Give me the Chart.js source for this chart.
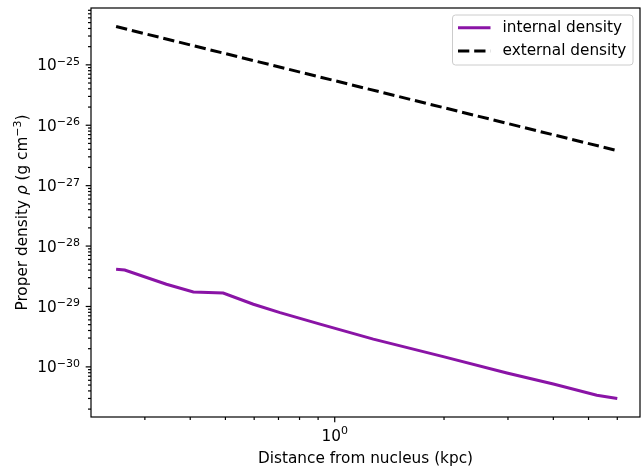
<!DOCTYPE html>
<html>
<head>
<meta charset="utf-8">
<script src="https://cdn.jsdelivr.net/npm/chart.js@4"></script>
<style>
  html, body { margin: 0; padding: 0; background: #fff; }
  #wrap { width: 641px; height: 466px; }
</style>
</head>
<body>
<div id="wrap"><canvas id="chart" width="641" height="466"></canvas></div>
<script>
// distance from nucleus (kpc)
const internalX = [0.25, 0.264, 0.344, 0.408, 0.493, 0.597, 0.707, 0.911, 1.277, 1.99, 2.98, 4.0, 5.27, 6.0];
// proper density (g cm^-3)
const internalRho = [4.12e-29, 4.0e-29, 2.33e-29, 1.74e-29, 1.67e-29, 1.09e-29, 7.9e-30, 5.1e-30, 2.88e-30, 1.48e-30, 7.9e-31, 5.2e-31, 3.4e-31, 3.0e-31];
const externalX = [0.25, 6.0];
const externalRho = [4.3e-25, 3.8e-27];

// major ticks, labelled as 10^exponent
const xMajorTicks = [1];
const xTickExponents = ['0'];
const yMajorTicks = [1e-30, 1e-29, 1e-28, 1e-27, 1e-26, 1e-25];
const yTickExponents = ['\u221230', '\u221229', '\u221228', '\u221227', '\u221226', '\u221225'];

const FONT = '"DejaVu Sans"';
const FS = 15.3;
const SUP = 11;

// major + minor (2..9 x 10^n) tick values inside [min, max]
function logTicks(min, max) {
    const out = [];
    for (let e = Math.floor(Math.log10(min)); e <= Math.ceil(Math.log10(max)); e++) {
        for (let m = 1; m <= 9; m++) {
            const v = Number(m + 'e' + e);
            if (v >= min && v <= max) out.push({ value: v });
        }
    }
    return out;
}

function exponentFor(value, majors, exps) {
    for (let i = 0; i < majors.length; i++) {
        if (Math.abs(Math.log10(value) - Math.log10(majors[i])) < 1e-6) return exps[i];
    }
    return null;
}

// draws "10" with a raised exponent, like matplotlib mathtext
function drawPow(ctx, exp, x, baseY, align, shift) {
    ctx.font = FS + 'px ' + FONT;
    const wb = ctx.measureText('10').width;
    ctx.font = SUP + 'px ' + FONT;
    const we = ctx.measureText(exp).width;
    const x0 = align === 'right' ? x - wb - we : x - (wb + we) / 2;
    ctx.font = FS + 'px ' + FONT;
    ctx.fillText('10', x0, baseY);
    ctx.font = SUP + 'px ' + FONT;
    ctx.fillText(exp, x0 + wb, baseY - shift);
}

// frame, ticks, axis titles and legend drawn the matplotlib way
const axesPlugin = {
    id: 'axesPlugin',
    afterDraw(chart) {
        const ctx = chart.ctx;
        const a = chart.chartArea;
        const xs = chart.scales.x;
        const ys = chart.scales.y;
        ctx.save();
        ctx.strokeStyle = '#000';
        ctx.fillStyle = '#000';
        ctx.lineWidth = 1.2;
        ctx.textBaseline = 'alphabetic';
        ctx.textAlign = 'left';

        xs.ticks.forEach(t => {
            const px = xs.getPixelForValue(t.value);
            const exp = exponentFor(t.value, xMajorTicks, xTickExponents);
            const len = exp !== null ? 5.3 : 3.0;
            ctx.beginPath();
            ctx.moveTo(px, a.bottom);
            ctx.lineTo(px, a.bottom + len);
            ctx.stroke();
            if (exp !== null) drawPow(ctx, exp, px, a.bottom + 23.8, 'center', 7);
        });
        ys.ticks.forEach(t => {
            const py = ys.getPixelForValue(t.value);
            const exp = exponentFor(t.value, yMajorTicks, yTickExponents);
            const len = exp !== null ? 5.3 : 3.0;
            ctx.beginPath();
            ctx.moveTo(a.left, py);
            ctx.lineTo(a.left - len, py);
            ctx.stroke();
            if (exp !== null) drawPow(ctx, exp, a.left - 11, py + 5.5, 'right', 5.5);
        });

        ctx.strokeRect(a.left, a.top, a.right - a.left, a.bottom - a.top);

        // x title
        ctx.font = FS + 'px ' + FONT;
        ctx.textAlign = 'center';
        ctx.fillText('Distance from nucleus (kpc)', (a.left + a.right) / 2, 463.3);
        ctx.textAlign = 'left';

        // y title with italic rho and cm^-3
        const parts = [
            { t: 'Proper density ', f: FS + 'px ' + FONT, dy: 0 },
            { t: '\u03C1', f: 'italic ' + FS + 'px ' + FONT, dy: 0 },
            { t: ' (g cm', f: FS + 'px ' + FONT, dy: 0 },
            { t: '\u22123', f: SUP + 'px ' + FONT, dy: -6 },
            { t: ')', f: FS + 'px ' + FONT, dy: 0 }
        ];
        let total = 0;
        parts.forEach(p => { ctx.font = p.f; p.w = ctx.measureText(p.t).width; total += p.w; });
        ctx.save();
        ctx.translate(26.5, (a.top + a.bottom) / 2);
        ctx.rotate(-Math.PI / 2);
        let cx = -total / 2;
        parts.forEach(p => {
            ctx.font = p.f;
            ctx.fillText(p.t, cx, p.dy);
            cx += p.w;
        });
        ctx.restore();

        // legend
        const lx = 452.5, ly = 15, lw = 180.5, lh = 50;
        ctx.beginPath();
        ctx.roundRect(lx, ly, lw, lh, 3);
        ctx.fillStyle = 'rgba(255,255,255,0.8)';
        ctx.fill();
        ctx.strokeStyle = '#cccccc';
        ctx.lineWidth = 1;
        ctx.stroke();

        ctx.font = FS + 'px ' + FONT;
        ctx.textBaseline = 'middle';
        chart.data.datasets.forEach((ds, i) => {
            const y = ly + 12.7 + i * 23.3;
            ctx.beginPath();
            ctx.strokeStyle = ds.borderColor;
            ctx.lineWidth = ds.borderWidth;
            ctx.setLineDash(ds.borderDash || []);
            ctx.moveTo(lx + 5.5, y);
            ctx.lineTo(lx + 38, y);
            ctx.stroke();
            ctx.setLineDash([]);
            ctx.fillStyle = '#000';
            ctx.fillText(ds.label, lx + 50, y);
        });
        ctx.restore();
    }
};

new Chart(document.getElementById('chart'), {
    type: 'line',
    data: {
        datasets: [
            {
                label: 'internal density',
                data: internalX.map((x, i) => ({ x: x, y: internalRho[i] })),
                borderColor: '#8a14a6',
                borderWidth: 3,
                pointRadius: 0,
                fill: false,
                tension: 0
            },
            {
                label: 'external density',
                data: externalX.map((x, i) => ({ x: x, y: externalRho[i] })),
                borderColor: '#000000',
                borderWidth: 3,
                borderDash: [11.3, 4.9],
                pointRadius: 0,
                fill: false,
                tension: 0
            }
        ]
    },
    options: {
        responsive: false,
        animation: false,
        layout: { padding: { top: 8, right: 1, left: 0, bottom: 0 } },
        plugins: {
            legend: { display: false },
            tooltip: { enabled: false }
        },
        scales: {
            x: {
                type: 'logarithmic',
                min: 0.2132,
                max: 6.93,
                grid: { display: false },
                border: { display: false },
                ticks: { display: false, autoSkip: false },
                afterBuildTicks: scale => { scale.ticks = logTicks(scale.min, scale.max); },
                afterFit: scale => {
                    scale.height = 49;
                    scale.paddingLeft = 0;
                    scale.paddingRight = 0;
                }
            },
            y: {
                type: 'logarithmic',
                min: 1.48e-31,
                max: 8.73e-25,
                grid: { display: false },
                border: { display: false },
                ticks: { display: false, autoSkip: false },
                afterBuildTicks: scale => { scale.ticks = logTicks(scale.min, scale.max); },
                afterFit: scale => {
                    scale.width = 91;
                    scale.paddingTop = 0;
                    scale.paddingBottom = 0;
                }
            }
        }
    },
    plugins: [axesPlugin]
});
</script>
</body>
</html>
